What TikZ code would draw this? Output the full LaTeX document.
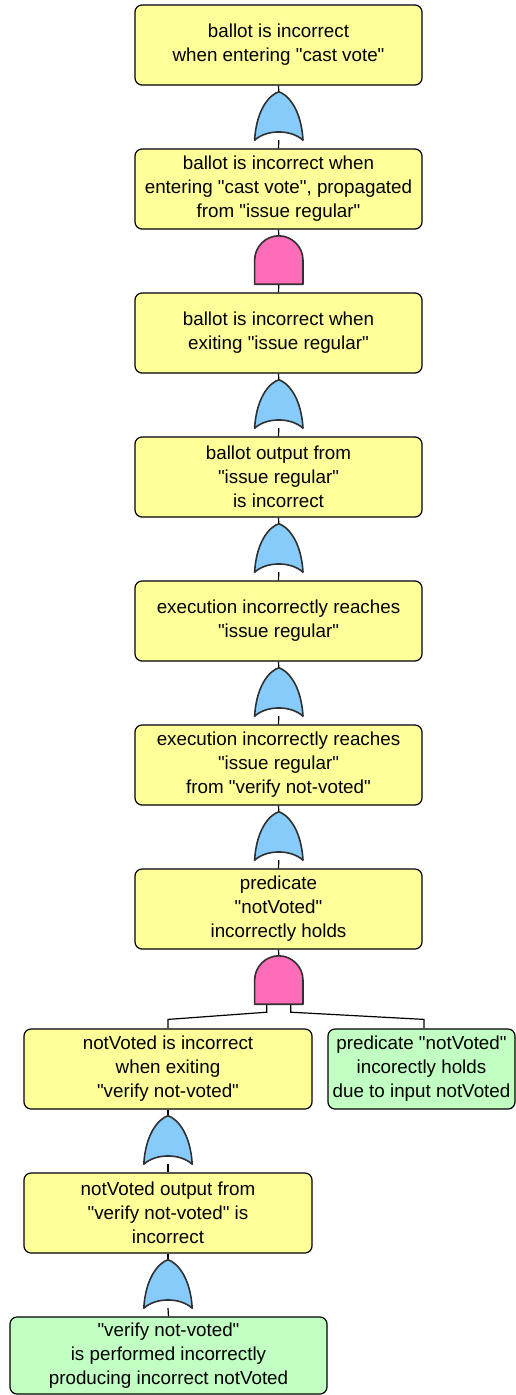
\documentclass[tikz,border=0pt]{standalone}
\usepackage{fontspec}
\setmainfont{Liberation Sans}[Ligatures=TeXOff]
\usetikzlibrary{calc}
\definecolor{boxyellow}{HTML}{FFFF99}
\definecolor{boxgreen}{HTML}{C2FFC2}
\definecolor{orblue}{HTML}{87CBFA}
\definecolor{andpink}{HTML}{FF6DB8}
\definecolor{gateline}{HTML}{303030}
\tikzset{
  fbox/.style={draw=black, line width=1.2pt, rounded corners=7pt, align=center,
    minimum width=287pt, minimum height=80pt, inner sep=0pt,
    font=\fontsize{18.8}{24}\selectfont},
  ybox/.style={fbox, fill=boxyellow},
  gbox/.style={fbox, fill=boxgreen},
  gate/.style={minimum width=48pt, minimum height=48pt, inner sep=0pt, draw=none},
  orstyle/.style={draw=gateline, line width=1.6pt, fill=orblue, line join=round},
  andstyle/.style={draw=gateline, line width=1.6pt, fill=andpink, line join=round},
  conn/.style={draw=black, line width=1.2pt}
}
\newcommand\orgate[1]{%
  \path[orstyle] (#1.south west)
    .. controls ($(#1.south west)+(2,-34)$) and ($(#1.north)+(-7,2)$) .. (#1.north)
    .. controls ($(#1.north)+(7,2)$) and ($(#1.south east)+(-2,-34)$) .. (#1.south east)
    .. controls ($(#1.south east)+(-12,-11)$) and ($(#1.south west)+(12,-11)$) .. cycle;}
\newcommand\andgate[1]{%
  \path[andstyle] (#1.south west) -- ($(#1.south west)+(0,-24)$)
    .. controls ($(#1.south west)+(0,-37.25)$) and ($(#1.north)+(-13.25,0)$) .. (#1.north)
    .. controls ($(#1.north)+(13.25,0)$) and ($(#1.south east)+(0,-37.25)$) .. ($(#1.south east)+(0,-24)$)
    -- (#1.south east) -- cycle;}
\begin{document}
\begin{tikzpicture}[x=1pt,y=-1pt]
\useasboundingbox (0,0) rectangle (516,1395);
% boxes
\node[ybox] (b1) at (278.5,45) {ballot is incorrect\\when entering "cast vote"};
\node[ybox] (b2) at (278.5,189) {ballot is incorrect when\\entering "cast vote", propagated\\from "issue regular"};
\node[ybox] (b3) at (278.5,333) {ballot is incorrect when\\exiting "issue regular"};
\node[ybox] (b4) at (278.5,477) {ballot output from\\"issue regular"\\is incorrect};
\node[ybox] (b5) at (278.5,621) {execution incorrectly reaches\\"issue regular"};
\node[ybox] (b6) at (278.5,765) {execution incorrectly reaches\\"issue regular"\\from "verify not-voted"};
\node[ybox] (b7) at (278.5,909) {predicate\\"notVoted"\\incorrectly holds};
\node[ybox, minimum width=288pt] (b8) at (168,1069) {notVoted is incorrect\\when exiting\\"verify not-voted"};
\node[gbox, minimum width=187pt] (b9) at (421.5,1069) {predicate "notVoted"\\incorectly holds\\due to input notVoted};
\node[ybox, minimum width=288pt] (b10) at (168,1213) {notVoted output from\\"verify not-voted" is\\incorrect};
\node[gbox, minimum width=317pt, minimum height=77pt] (b11) at (168.5,1355.5) {"verify not-voted"\\is performed incorrectly\\producing incorrect notVoted};
% gates
\node[gate] (g1) at (278.8,116) {};
\node[gate] (g2) at (278.8,260) {};
\node[gate] (g3) at (278.8,404) {};
\node[gate] (g4) at (278.8,548) {};
\node[gate] (g5) at (278.8,692) {};
\node[gate] (g6) at (278.8,836) {};
\node[gate] (g7) at (278.8,980) {};
\node[gate] (g8) at (168,1140) {};
\node[gate] (g9) at (168,1284) {};
% connectors
\draw[conn] (b1.south) -- (g1.north);
\draw[conn] (g1.south) -- (b2.north);
\draw[conn] (b2.south) -- (g2.north);
\draw[conn] (g2.south) -- (b3.north);
\draw[conn] (b3.south) -- (g3.north);
\draw[conn] (g3.south) -- (b4.north);
\draw[conn] (b4.south) -- (g4.north);
\draw[conn] (g4.south) -- (b5.north);
\draw[conn] (b5.south) -- (g5.north);
\draw[conn] (g5.south) -- (b6.north);
\draw[conn] (b6.south) -- (g6.north);
\draw[conn] (g6.south) -- (b7.north);
\draw[conn] (b7.south) -- (g7.north);
\draw[conn] ($(g7.south)+(-12,0)$) -- ++(0,8) -- ($(b8.north)+(0,-9)$) -- (b8.north);
\draw[conn] ($(g7.south)+(12,0)$) -- ++(0,8) -- ($(b9.north)+(2.5,-9)$) -- ($(b9.north)+(2.5,0)$);
\draw[conn] (b8.south) -- (g8.north);
\draw[conn] (g8.south) -- (b10.north);
\draw[conn] (b10.south) -- (g9.north);
\draw[conn] (g9.south) -- (b11.north);
% gate shapes
\orgate{g1}
\andgate{g2}
\orgate{g3}
\orgate{g4}
\orgate{g5}
\orgate{g6}
\andgate{g7}
\orgate{g8}
\orgate{g9}
\end{tikzpicture}
\end{document}
